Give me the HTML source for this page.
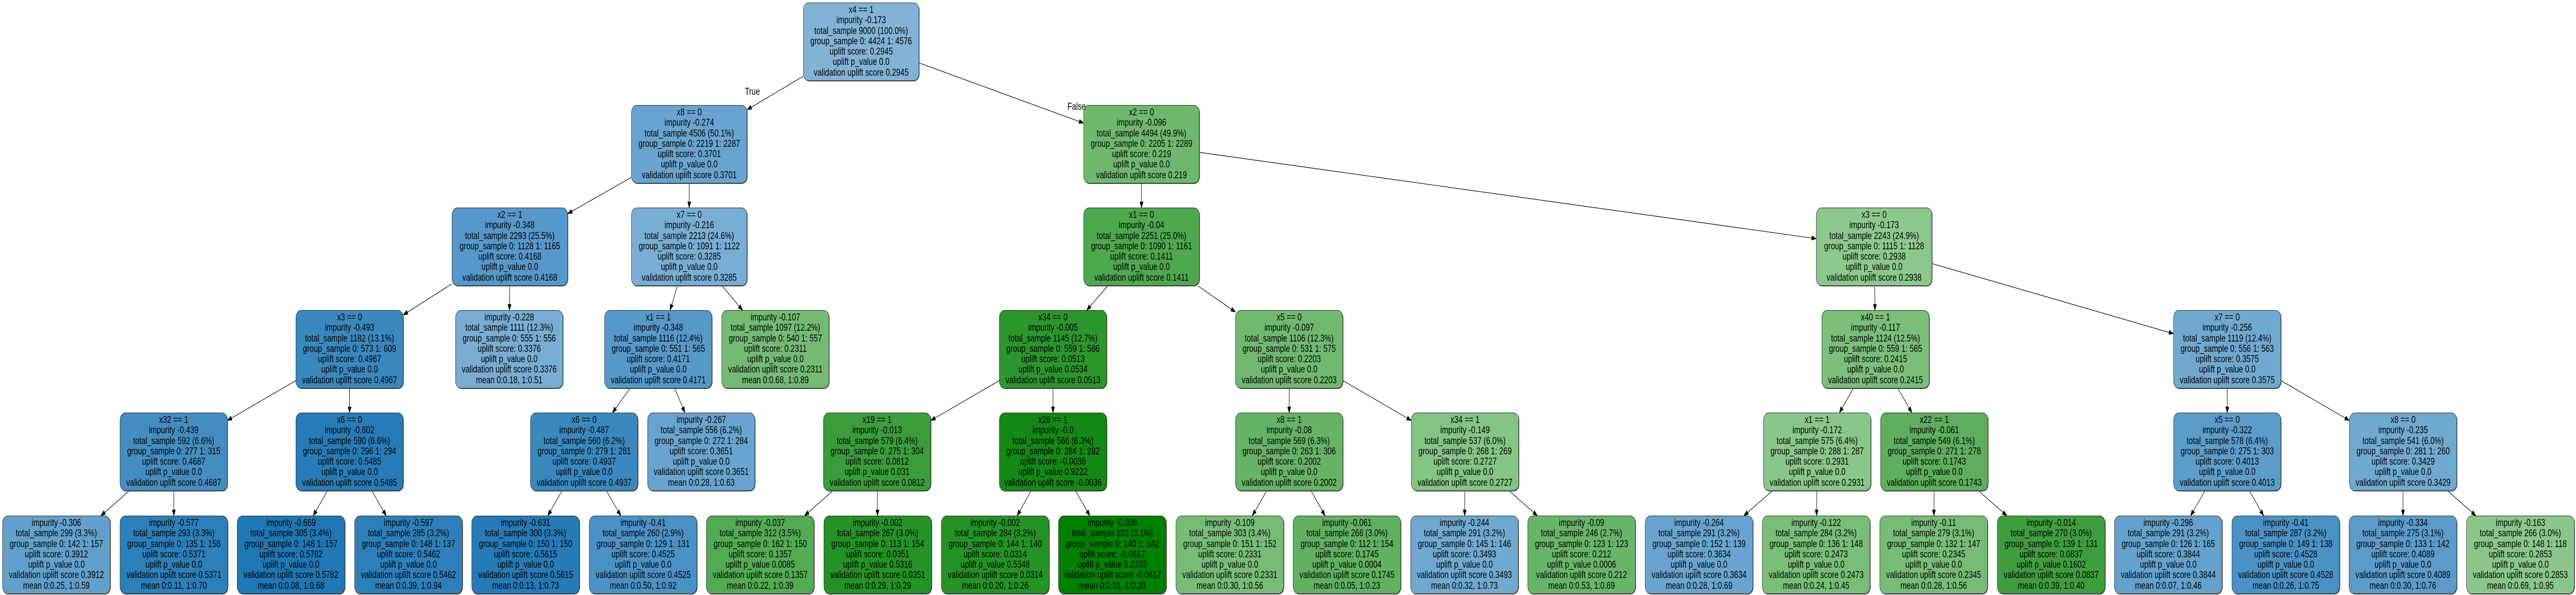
<!DOCTYPE html>
<html><head><meta charset="utf-8"><style>
html,body{margin:0;padding:0;background:#fff;overflow:hidden}
#c{position:absolute;left:0;top:0;width:6533px;height:1155px;overflow:hidden;background:#fff;transform-origin:0 0}
.n{position:absolute;height:152px;border:1.3px solid #2a2a2a;border-radius:14px;box-sizing:border-box;display:flex;flex-direction:column;justify-content:center;text-align:center;font-family:"Liberation Sans",Arial,sans-serif;font-size:19px;line-height:20.2px;color:#000;white-space:nowrap;overflow:hidden;box-shadow:1px 1px 0 #555}
.l{width:274px;top:1001px}
.a{width:273px;top:801px}
.b{width:273px;top:602px}
.w{width:294px}
svg{position:absolute;left:0;top:0}
.lab{position:absolute;font-family:"Liberation Sans",Arial,sans-serif;font-size:19px}
</style></head><body><div id="c">
<svg id="s" width="6533" height="1155"></svg>

<div class="n w" id="r" style="left:2037px;top:5px;background:#82b3d6">x4 == 1<br>impurity -0.173<br>total_sample 9000 (100.0%)<br>group_sample  0: 4424 1: 4576<br>uplift score: 0.2945<br>uplift p_value 0.0<br>validation uplift score 0.2945</div>

<div class="n w" id="a1" style="left:1601px;top:204px;background:#68a4cf">x8 == 0<br>impurity -0.274<br>total_sample 4506 (50.1%)<br>group_sample  0: 2219 1: 2287<br>uplift score: 0.3701<br>uplift p_value 0.0<br>validation uplift score 0.3701</div>
<div class="n w" id="a2" style="left:2748px;top:204px;background:#6eb86e">x2 == 0<br>impurity -0.096<br>total_sample 4494 (49.9%)<br>group_sample  0: 2205 1: 2289<br>uplift score: 0.219<br>uplift p_value 0.0<br>validation uplift score 0.219</div>

<div class="n w" id="b1" style="left:1146px;top:403px;background:#5698c9">x2 == 1<br>impurity -0.348<br>total_sample 2293 (25.5%)<br>group_sample  0: 1128 1: 1165<br>uplift score: 0.4168<br>uplift p_value 0.0<br>validation uplift score 0.4168</div>
<div class="n w" id="b2" style="left:1601px;top:403px;background:#78add4">x7 == 0<br>impurity -0.216<br>total_sample 2213 (24.6%)<br>group_sample  0: 1091 1: 1122<br>uplift score: 0.3285<br>uplift p_value 0.0<br>validation uplift score 0.3285</div>
<div class="n w" id="b3" style="left:2748px;top:403px;background:#4ea84e">x1 == 0<br>impurity -0.04<br>total_sample 2251 (25.0%)<br>group_sample  0: 1090 1: 1161<br>uplift score: 0.1411<br>uplift p_value 0.0<br>validation uplift score 0.1411</div>
<div class="n w" id="b4" style="left:4606px;top:403px;background:#8cc88c">x3 == 0<br>impurity -0.173<br>total_sample 2243 (24.9%)<br>group_sample  0: 1115 1: 1128<br>uplift score: 0.2938<br>uplift p_value 0.0<br>validation uplift score 0.2938</div>

<div class="n b" id="c1" style="left:750px;background:#3a88be">x3 == 0<br>impurity -0.493<br>total_sample 1182 (13.1%)<br>group_sample  0: 573 1: 609<br>uplift score: 0.4967<br>uplift p_value 0.0<br>validation uplift score 0.4967</div>
<div class="n b" id="c2" style="left:1155px;background:#78acd2">impurity -0.228<br>total_sample 1111 (12.3%)<br>group_sample  0: 555 1: 556<br>uplift score: 0.3376<br>uplift p_value 0.0<br>validation uplift score 0.3376<br>mean 0:0.18, 1:0.51</div>
<div class="n b" id="c3" style="left:1533px;background:#5698c8">x1 == 1<br>impurity -0.348<br>total_sample 1116 (12.4%)<br>group_sample  0: 551 1: 565<br>uplift score: 0.4171<br>uplift p_value 0.0<br>validation uplift score 0.4171</div>
<div class="n b" id="c4" style="left:1830px;background:#74ba74">impurity -0.107<br>total_sample 1097 (12.2%)<br>group_sample  0: 540 1: 557<br>uplift score: 0.2311<br>uplift p_value 0.0<br>validation uplift score 0.2311<br>mean 0:0.68, 1:0.89</div>
<div class="n b" id="c5" style="left:2534px;background:#2c962c">x34 == 0<br>impurity -0.005<br>total_sample 1145 (12.7%)<br>group_sample  0: 559 1: 586<br>uplift score: 0.0513<br>uplift p_value 0.0534<br>validation uplift score 0.0513</div>
<div class="n b" id="c6" style="left:3133px;background:#70b870">x5 == 0<br>impurity -0.097<br>total_sample 1106 (12.3%)<br>group_sample  0: 531 1: 575<br>uplift score: 0.2203<br>uplift p_value 0.0<br>validation uplift score 0.2203</div>
<div class="n b" id="c7" style="left:4620px;background:#7abe7a">x40 == 1<br>impurity -0.117<br>total_sample 1124 (12.5%)<br>group_sample  0: 559 1: 565<br>uplift score: 0.2415<br>uplift p_value 0.0<br>validation uplift score 0.2415</div>
<div class="n b" id="c8" style="left:5512px;background:#70a8d0">x7 == 0<br>impurity -0.256<br>total_sample 1119 (12.4%)<br>group_sample  0: 556 1: 563<br>uplift score: 0.3575<br>uplift p_value 0.0<br>validation uplift score 0.3575</div>

<div class="n a" id="d1" style="left:304px;background:#448dc1">x32 == 1<br>impurity -0.439<br>total_sample 592 (6.6%)<br>group_sample  0: 277 1: 315<br>uplift score: 0.4687<br>uplift p_value 0.0<br>validation uplift score 0.4687</div>
<div class="n a" id="d2" style="left:750px;background:#277cb7">x6 == 0<br>impurity -0.602<br>total_sample 590 (6.6%)<br>group_sample  0: 296 1: 294<br>uplift score: 0.5485<br>uplift p_value 0.0<br>validation uplift score 0.5485</div>
<div class="n a" id="d3" style="left:1345px;background:#3a88be">x6 == 0<br>impurity -0.487<br>total_sample 560 (6.2%)<br>group_sample  0: 279 1: 281<br>uplift score: 0.4937<br>uplift p_value 0.0<br>validation uplift score 0.4937</div>
<div class="n a" id="d4" style="left:1642px;background:#68a4cf">impurity -0.267<br>total_sample 556 (6.2%)<br>group_sample  0: 272 1: 284<br>uplift score: 0.3651<br>uplift p_value 0.0<br>validation uplift score 0.3651<br>mean 0:0.28, 1:0.63</div>
<div class="n a" id="d5" style="left:2088px;background:#3a9c3a">x19 == 1<br>impurity -0.013<br>total_sample 579 (6.4%)<br>group_sample  0: 275 1: 304<br>uplift score: 0.0812<br>uplift p_value 0.031<br>validation uplift score 0.0812</div>
<div class="n a" id="d6" style="left:2534px;background:#148814">x28 == 1<br>impurity -0.0<br>total_sample 566 (6.3%)<br>group_sample  0: 284 1: 282<br>uplift score: -0.0036<br>uplift p_value 0.9222<br>validation uplift score -0.0036</div>
<div class="n a" id="d7" style="left:3133px;background:#66b266">x8 == 1<br>impurity -0.08<br>total_sample 569 (6.3%)<br>group_sample  0: 263 1: 306<br>uplift score: 0.2002<br>uplift p_value 0.0<br>validation uplift score 0.2002</div>
<div class="n a" id="d8" style="left:3579px;background:#84c484">x34 == 1<br>impurity -0.149<br>total_sample 537 (6.0%)<br>group_sample  0: 268 1: 269<br>uplift score: 0.2727<br>uplift p_value 0.0<br>validation uplift score 0.2727</div>
<div class="n a" id="d9" style="left:4472px;background:#89c689">x1 == 1<br>impurity -0.172<br>total_sample 575 (6.4%)<br>group_sample  0: 288 1: 287<br>uplift score: 0.2931<br>uplift p_value 0.0<br>validation uplift score 0.2931</div>
<div class="n a" id="d10" style="left:4769px;background:#5eae5e">x22 == 1<br>impurity -0.061<br>total_sample 549 (6.1%)<br>group_sample  0: 271 1: 278<br>uplift score: 0.1743<br>uplift p_value 0.0<br>validation uplift score 0.1743</div>
<div class="n a" id="d11" style="left:5512px;background:#5c9cc9">x5 == 0<br>impurity -0.322<br>total_sample 578 (6.4%)<br>group_sample  0: 275 1: 303<br>uplift score: 0.4013<br>uplift p_value 0.0<br>validation uplift score 0.4013</div>
<div class="n a" id="d12" style="left:5958px;background:#70a9d0">x8 == 0<br>impurity -0.235<br>total_sample 541 (6.0%)<br>group_sample  0: 281 1: 260<br>uplift score: 0.3429<br>uplift p_value 0.0<br>validation uplift score 0.3429</div>

<div class="n l" id="e0" style="left:6px;background:#62a0cb">impurity -0.306<br>total_sample 299 (3.3%)<br>group_sample  0: 142 1: 157<br>uplift score: 0.3912<br>uplift p_value 0.0<br>validation uplift score 0.3912<br>mean 0:0.25, 1:0.59</div>
<div class="n l" id="e1" style="left:304px;background:#2c7fb8">impurity -0.577<br>total_sample 293 (3.3%)<br>group_sample  0: 135 1: 158<br>uplift score: 0.5371<br>uplift p_value 0.0<br>validation uplift score 0.5371<br>mean 0:0.11, 1:0.70</div>
<div class="n l" id="e2" style="left:601px;background:#1f77b4">impurity -0.669<br>total_sample 305 (3.4%)<br>group_sample  0: 148 1: 157<br>uplift score: 0.5782<br>uplift p_value 0.0<br>validation uplift score 0.5782<br>mean 0:0.08, 1:0.68</div>
<div class="n l" id="e3" style="left:899px;background:#2d7fb9">impurity -0.597<br>total_sample 285 (3.2%)<br>group_sample  0: 148 1: 137<br>uplift score: 0.5462<br>uplift p_value 0.0<br>validation uplift score 0.5462<br>mean 0:0.39, 1:0.94</div>
<div class="n l" id="e4" style="left:1196px;background:#267ab6">impurity -0.631<br>total_sample 300 (3.3%)<br>group_sample  0: 150 1: 150<br>uplift score: 0.5615<br>uplift p_value 0.0<br>validation uplift score 0.5615<br>mean 0:0.13, 1:0.73</div>
<div class="n l" id="e5" style="left:1494px;background:#4a92c5">impurity -0.41<br>total_sample 260 (2.9%)<br>group_sample  0: 129 1: 131<br>uplift score: 0.4525<br>uplift p_value 0.0<br>validation uplift score 0.4525<br>mean 0:0.50, 1:0.92</div>
<div class="n l" id="e6" style="left:1791px;background:#52aa52">impurity -0.037<br>total_sample 312 (3.5%)<br>group_sample  0: 162 1: 150<br>uplift score: 0.1357<br>uplift p_value 0.0085<br>validation uplift score 0.1357<br>mean 0:0.22, 1:0.39</div>
<div class="n l" id="e7" style="left:2089px;background:#249224">impurity -0.002<br>total_sample 267 (3.0%)<br>group_sample  0: 113 1: 154<br>uplift score: 0.0351<br>uplift p_value 0.5316<br>validation uplift score 0.0351<br>mean 0:0.29, 1:0.29</div>
<div class="n l" id="e8" style="left:2387px;background:#249224">impurity -0.002<br>total_sample 284 (3.2%)<br>group_sample  0: 144 1: 140<br>uplift score: 0.0314<br>uplift p_value 0.5348<br>validation uplift score 0.0314<br>mean 0:0.20, 1:0.26</div>
<div class="n l" id="e9" style="left:2684px;background:#008000">impurity -0.008<br>total_sample 282 (3.1%)<br>group_sample  0: 140 1: 142<br>uplift score: -0.0617<br>uplift p_value 0.2333<br>validation uplift score -0.0617<br>mean 0:0.31, 1:0.20</div>
<div class="n l" id="e10" style="left:2982px;background:#76bc76">impurity -0.109<br>total_sample 303 (3.4%)<br>group_sample  0: 151 1: 152<br>uplift score: 0.2331<br>uplift p_value 0.0<br>validation uplift score 0.2331<br>mean 0:0.30, 1:0.56</div>
<div class="n l" id="e11" style="left:3279px;background:#60b060">impurity -0.061<br>total_sample 266 (3.0%)<br>group_sample  0: 112 1: 154<br>uplift score: 0.1745<br>uplift p_value 0.0004<br>validation uplift score 0.1745<br>mean 0:0.05, 1:0.23</div>
<div class="n l" id="e12" style="left:3577px;background:#70a8d0">impurity -0.244<br>total_sample 291 (3.2%)<br>group_sample  0: 145 1: 146<br>uplift score: 0.3493<br>uplift p_value 0.0<br>validation uplift score 0.3493<br>mean 0:0.32, 1:0.73</div>
<div class="n l" id="e13" style="left:3874px;background:#68b468">impurity -0.09<br>total_sample 246 (2.7%)<br>group_sample  0: 123 1: 123<br>uplift score: 0.212<br>uplift p_value 0.0006<br>validation uplift score 0.212<br>mean 0:0.53, 1:0.69</div>
<div class="n l" id="e14" style="left:4172px;background:#68a4cf">impurity -0.264<br>total_sample 291 (3.2%)<br>group_sample  0: 152 1: 139<br>uplift score: 0.3634<br>uplift p_value 0.0<br>validation uplift score 0.3634<br>mean 0:0.28, 1:0.69</div>
<div class="n l" id="e15" style="left:4469px;background:#78be78">impurity -0.122<br>total_sample 284 (3.2%)<br>group_sample  0: 136 1: 148<br>uplift score: 0.2473<br>uplift p_value 0.0<br>validation uplift score 0.2473<br>mean 0:0.24, 1:0.45</div>
<div class="n l" id="e16" style="left:4767px;background:#76bc76">impurity -0.11<br>total_sample 279 (3.1%)<br>group_sample  0: 132 1: 147<br>uplift score: 0.2345<br>uplift p_value 0.0<br>validation uplift score 0.2345<br>mean 0:0.28, 1:0.56</div>
<div class="n l" id="e17" style="left:5065px;background:#3e9e3e">impurity -0.014<br>total_sample 270 (3.0%)<br>group_sample  0: 139 1: 131<br>uplift score: 0.0837<br>uplift p_value 0.1602<br>validation uplift score 0.0837<br>mean 0:0.39, 1:0.40</div>
<div class="n l" id="e18" style="left:5362px;background:#64a1cc">impurity -0.296<br>total_sample 291 (3.2%)<br>group_sample  0: 126 1: 165<br>uplift score: 0.3844<br>uplift p_value 0.0<br>validation uplift score 0.3844<br>mean 0:0.07, 1:0.46</div>
<div class="n l" id="e19" style="left:5660px;background:#4a92c5">impurity -0.41<br>total_sample 287 (3.2%)<br>group_sample  0: 149 1: 138<br>uplift score: 0.4528<br>uplift p_value 0.0<br>validation uplift score 0.4528<br>mean 0:0.26, 1:0.75</div>
<div class="n l" id="e20" style="left:5957px;background:#5a9bc9">impurity -0.334<br>total_sample 275 (3.1%)<br>group_sample  0: 133 1: 142<br>uplift score: 0.4089<br>uplift p_value 0.0<br>validation uplift score 0.4089<br>mean 0:0.30, 1:0.76</div>
<div class="n l" id="e21" style="left:6255px;background:#8ac68a">impurity -0.163<br>total_sample 266 (3.0%)<br>group_sample  0: 148 1: 118<br>uplift score: 0.2853<br>uplift p_value 0.0<br>validation uplift score 0.2853<br>mean 0:0.69, 1:0.95</div>

<div class="lab" style="left:1889px;top:168px">True</div>
<div class="lab" style="left:2707px;top:197px">False</div>
</div>
<script>
(function(){
var E=[["r","a1"],["r","a2"],["a1","b1"],["a1","b2"],["a2","b3"],["a2","b4"],
["b1","c1"],["b1","c2"],["b2","c3"],["b2","c4"],["b3","c5"],["b3","c6"],["b4","c7"],["b4","c8"],
["c1","d1"],["c1","d2"],["c3","d3"],["c3","d4"],["c5","d5"],["c5","d6"],["c6","d7"],["c6","d8"],["c7","d9"],["c7","d10"],["c8","d11"],["c8","d12"],
["d1","e0"],["d1","e1"],["d2","e2"],["d2","e3"],["d3","e4"],["d3","e5"],["d5","e6"],["d5","e7"],["d6","e8"],["d6","e9"],["d7","e10"],["d7","e11"],["d8","e12"],["d8","e13"],["d9","e14"],["d9","e15"],["d10","e16"],["d10","e17"],["d11","e18"],["d11","e19"],["d12","e20"],["d12","e21"]];
function box(id){var e=document.getElementById(id);return {x:e.offsetLeft,y:e.offsetTop,w:e.offsetWidth,h:e.offsetHeight};}
function clip(b,dx,dy){var hw=b.w/2,hh=b.h/2;return Math.min(dx!==0?hw/Math.abs(dx):1e9,dy!==0?hh/Math.abs(dy):1e9);}
var s='';
E.forEach(function(p){var A=box(p[0]),B=box(p[1]);
var ax=A.x+A.w/2,ay=A.y+A.h/2,bx=B.x+B.w/2,by=B.y+B.h/2;var dx=bx-ax,dy=by-ay;
var t1=clip(A,dx,dy),t2=clip(B,-dx,-dy);
var sx=ax+dx*t1,sy=ay+dy*t1,ex=bx-dx*t2,ey=by-dy*t2;
var L=Math.sqrt((ex-sx)*(ex-sx)+(ey-sy)*(ey-sy));var ux=(ex-sx)/L,uy=(ey-sy)/L;
var hx=ex-ux*11,hy=ey-uy*11;var px=-uy*4,py=ux*4;
s+='<line x1="'+sx+'" y1="'+sy+'" x2="'+hx+'" y2="'+hy+'" stroke="#000" stroke-width="1.2"/>';
s+='<polygon points="'+ex+','+ey+' '+(hx+px)+','+(hy+py)+' '+(hx-px)+','+(hy-py)+'" fill="#000" stroke="#000"/>';
});
document.getElementById('s').innerHTML=s;
function fit(){var w=document.documentElement.clientWidth||window.innerWidth||6533;var h=document.documentElement.clientHeight||window.innerHeight||1155;var kx=w/6533,ky=h/1155;if(kx>0.2&&kx<5&&ky>0.2&&ky<5){document.getElementById('c').style.transform='scale('+kx+','+ky+')';}}
fit();window.addEventListener('resize',fit);
})();
</script>
</body></html>
